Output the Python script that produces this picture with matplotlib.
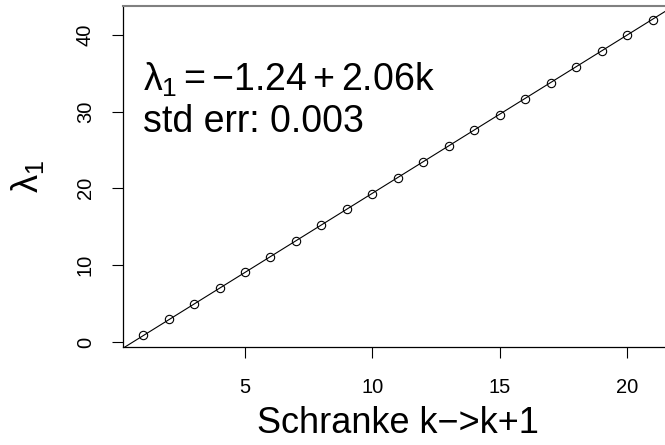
"""
Linear fit of lambda_1 against the bound k -> k+1 (R-style base plot look).
"""

import matplotlib
matplotlib.use("Agg")
import matplotlib.pyplot as plt

plt.rcParams['font.family'] = ['Liberation Sans', 'DejaVu Sans']
plt.rcParams['mathtext.fontset'] = 'custom'
plt.rcParams['mathtext.rm'] = 'Liberation Sans'
plt.rcParams['mathtext.it'] = 'Liberation Sans'
plt.rcParams['mathtext.sf'] = 'Liberation Sans'

# Data
k_values = [1, 2, 3, 4, 5, 6, 7, 8, 9, 10, 11,
            12, 13, 14, 15, 16, 17, 18, 19, 20, 21]
lambda1 = [0.95, 2.95, 5.0, 7.0, 9.05, 11.1, 13.15, 15.2, 17.25, 19.3, 21.35,
           23.4, 25.5, 27.55, 29.6, 31.65, 33.75, 35.8, 37.85, 39.9, 41.95]
fit_intercept = -1.24
fit_slope = 2.06
fit_stderr = 0.003

fig = plt.figure(figsize=(6.65, 4.45), dpi=100)
ax = fig.add_axes([0.1845, 0.2202, 0.8277, 0.7663])

ax.axline((0, fit_intercept), slope=fit_slope, color='black', lw=0.8)
ax.plot(k_values, lambda1, 'o', mfc='none', mec='black', ms=6, mew=0.8)

ax.set_xlim(0.2, 21.8)
ax.set_ylim(-0.65, 43.73)
ax.set_xticks([5, 10, 15, 20])
ax.set_yticks([0, 10, 20, 30, 40])

ax.spines['right'].set_visible(False)
ax.spines['top'].set_color('#808080')
ax.spines['top'].set_linewidth(1.5)
for s in ('left', 'bottom'):
    ax.spines[s].set_linewidth(0.9)

ax.tick_params(direction='out', length=8, width=0.8, labelsize=14.5)
ax.tick_params(axis='x', pad=14)
ax.tick_params(axis='y', pad=12)
for lab in ax.get_yticklabels():
    lab.set_rotation(90)
    lab.set_va('center')

ax.set_xlabel('Schranke k\u2212>k+1', fontsize=26)
ax.xaxis.label.set_va('baseline')
ax.xaxis.set_label_coords(0.5, -0.253)
ax.set_ylabel(r'$\lambda_1$', fontsize=26)
ax.yaxis.label.set_va('baseline')
ax.yaxis.set_label_coords(-0.153, 0.5)

ax.text(0.036, 0.751, r'$\lambda_1 = -1.24 + 2.06$k',
        transform=ax.transAxes, fontsize=27, va='baseline', ha='left')
ax.text(0.036, 0.630, 'std err: %.3f' % fit_stderr,
        transform=ax.transAxes, fontsize=27, va='baseline', ha='left')

fig.savefig('out.png', dpi=100, facecolor='white')
